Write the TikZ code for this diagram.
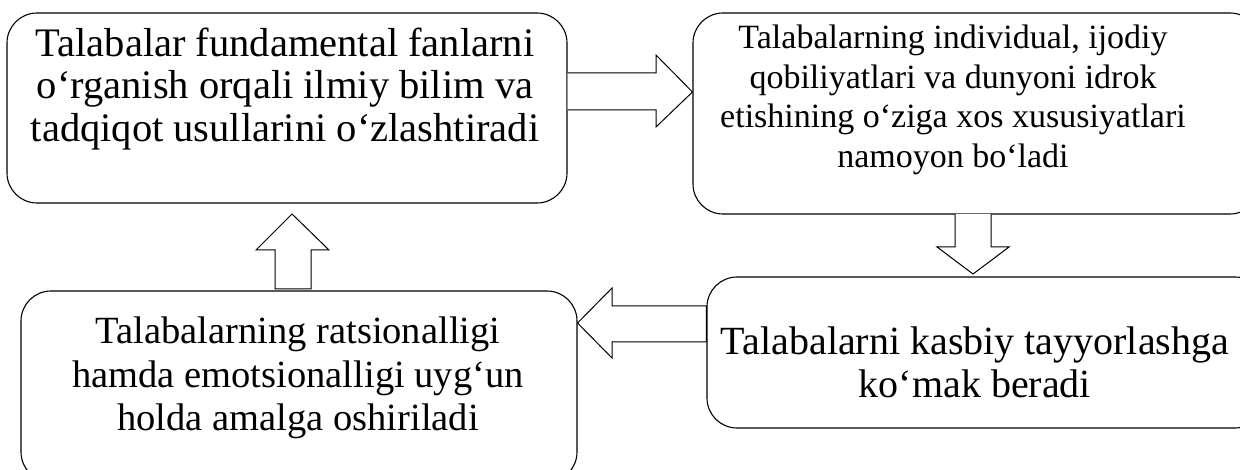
\documentclass[tikz,border=0pt]{standalone}
\usepackage{fontspec}
\setmainfont{Liberation Serif}
\begin{document}
\begin{tikzpicture}[x=1pt,y=-1pt,
  box/.style={draw,line width=1.1pt,rounded corners=30pt,inner sep=0pt},
  txt/.style={align=center,inner sep=0pt},
  blockarrow/.style={draw,line width=1pt,fill=white,line join=miter}]
\useasboundingbox (0,0) rectangle (1240,470);
\clip (0,0) rectangle (1240,470);
\fill[white] (0,0) rectangle (1240,470);
% boxes
\node[box,minimum width=560pt,minimum height=190pt] (b1) at (287,108) {};
\node[box,minimum width=567pt,minimum height=201pt] (b2) at (976.5,113.5) {};
\node[box,minimum width=558pt,minimum height=151pt] (b4) at (986,352.5) {};
\node[box,minimum width=556pt,minimum height=191pt] (b3) at (299,386.5) {};
% texts
\node[txt,font=\fontsize{40.5}{42.5}\selectfont] (t1) at (285,89) {Talabalar fundamental fanlarni\\o‘rganish orqali ilmiy bilim va\\tadqiqot usullarini o‘zlashtiradi};
\node[txt,font=\fontsize{34}{39.5}\selectfont] (t2) at (953,100) {Talabalarning individual, ijodiy\\qobiliyatlari va dunyoni idrok\\etishining o‘ziga xos xususiyatlari\\namoyon bo‘ladi};
\node[txt,font=\fontsize{40}{43}\selectfont] (t4) at (975,362) {Talabalarni kasbiy tayyorlashga\\ko‘mak beradi};
\node[txt,font=\fontsize{38.5}{43.5}\selectfont] (t3) at (298,378) {Talabalarning ratsionalligi\\hamda emotsionalligi uyg‘un\\holda amalga oshiriladi};
% block arrows
\draw[blockarrow] (b1.east |- 0,73) -- (656,73) -- (656,55) -- (b2.west |- 0,92) -- (656,127) -- (656,110) -- (b1.east |- 0,110);
\draw[blockarrow] (955,214) -- (955,247) -- (937,247) -- (973,274) -- (1009,247) -- (991,247) -- (991,214);
\draw[blockarrow] (b4.west |- 0,306) -- (612,306) -- (612,288) -- (b3.east |- 0,323) -- (612,358) -- (612,342) -- (b4.west |- 0,342) -- cycle;
\draw[blockarrow] (275,289) -- (275,250) -- (256,250) -- (292,214) -- (329,250) -- (311,250) -- (311,289) -- cycle;
\end{tikzpicture}
\end{document}
